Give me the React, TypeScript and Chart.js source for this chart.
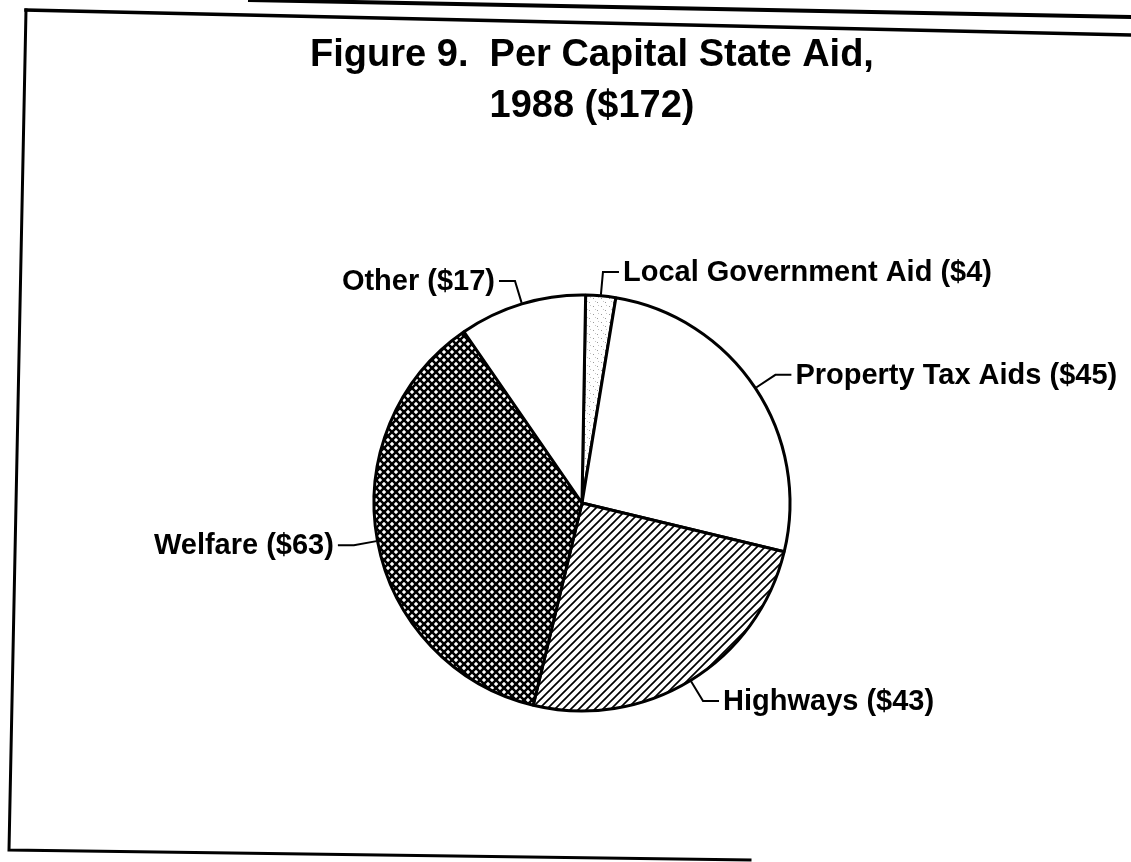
import React, { useEffect, useRef } from 'react';
import { Chart, registerables } from 'chart.js';

Chart.register(...registerables);

// ---- data ----
const categories = ['Local Government Aid', 'Property Tax Aids', 'Highways', 'Welfare', 'Other'];
const values = [4, 45, 43, 63, 17];
const titleLines = ['Figure 9.  Per Capital State Aid,', '1988 ($172)'];

const FONT = '"Liberation Sans", Arial, Helvetica, sans-serif';

function makePattern(size: number, draw: (c: CanvasRenderingContext2D, s: number) => void): CanvasPattern | string {
  const cv = document.createElement('canvas');
  cv.width = size;
  cv.height = size;
  const c = cv.getContext('2d');
  if (!c) return '#fff';
  c.fillStyle = '#fff';
  c.fillRect(0, 0, size, size);
  draw(c, size);
  const p = c.createPattern(cv, 'repeat');
  return p || '#fff';
}

function slash(c: CanvasRenderingContext2D, s: number) {
  c.beginPath();
  c.moveTo(0, s);
  c.lineTo(s, 0);
  c.moveTo(-2, 2);
  c.lineTo(2, -2);
  c.moveTo(s - 2, s + 2);
  c.lineTo(s + 2, s - 2);
  c.stroke();
}
function backslash(c: CanvasRenderingContext2D, s: number) {
  c.beginPath();
  c.moveTo(0, 0);
  c.lineTo(s, s);
  c.moveTo(-2, s - 2);
  c.lineTo(2, s + 2);
  c.moveTo(s - 2, -2);
  c.lineTo(s + 2, 2);
  c.stroke();
}

const titlePlugin = {
  id: 'figTitle',
  afterDraw(chart: any) {
    const ctx: CanvasRenderingContext2D = chart.ctx;
    ctx.save();
    ctx.fillStyle = '#000';
    ctx.font = `bold 38px ${FONT}`;
    ctx.textAlign = 'center';
    ctx.textBaseline = 'middle';
    const cx = (chart.chartArea.left + chart.chartArea.right) / 2 + 10;
    titleLines.forEach((t, i) => ctx.fillText(t, cx, 56 + i * 51));
    ctx.restore();
  },
};

const labelPlugin = {
  id: 'leaderLabels',
  afterDraw(chart: any) {
    const ctx: CanvasRenderingContext2D = chart.ctx;
    const meta = chart.getDatasetMeta(0);
    const data = chart.data.datasets[0].data as number[];
    const labels = chart.data.labels as string[];
    ctx.save();
    ctx.strokeStyle = '#000';
    ctx.fillStyle = '#000';
    ctx.lineWidth = 2;
    ctx.font = `bold 29px ${FONT}`;
    ctx.textBaseline = 'middle';
    meta.data.forEach((arc: any, i: number) => {
      const { x, y, startAngle, endAngle, outerRadius } = arc.getProps(
        ['x', 'y', 'startAngle', 'endAngle', 'outerRadius'],
        true
      );
      const mid = (startAngle + endAngle) / 2;
      const cx = Math.cos(mid);
      const cy = Math.sin(mid);
      const r0 = outerRadius + 1;
      const ex = x + cx * r0;
      const ey = y + cy * r0;
      const kx = x + cx * (r0 + 23);
      const ky = y + cy * (r0 + 23);
      const right = cx >= 0;
      const hx = kx + (right ? 16 : -16);
      ctx.beginPath();
      ctx.moveTo(ex, ey);
      ctx.lineTo(kx, ky);
      ctx.lineTo(hx, ky);
      ctx.stroke();
      ctx.textAlign = right ? 'left' : 'right';
      const txt = `${labels[i]} ($${data[i]})`;
      ctx.fillText(txt, hx + (right ? 4 : -4), ky + 1);
    });
    ctx.restore();
  },
};

const framePlugin = {
  id: 'scanFrame',
  beforeDraw(chart: any) {
    const ctx: CanvasRenderingContext2D = chart.ctx;
    ctx.save();
    ctx.fillStyle = '#fff';
    ctx.fillRect(0, 0, chart.width, chart.height);
    ctx.strokeStyle = '#000';
    ctx.lineCap = 'square';
    // outer top line (page edge)
    ctx.lineWidth = 4;
    ctx.beginPath();
    ctx.moveTo(250, 0);
    ctx.lineTo(1131, 17);
    ctx.stroke();
    // frame top
    ctx.lineWidth = 3.5;
    ctx.beginPath();
    ctx.moveTo(26, 10);
    ctx.lineTo(1131, 35);
    ctx.stroke();
    // frame left + bottom
    ctx.lineWidth = 3;
    ctx.beginPath();
    ctx.moveTo(26, 10);
    ctx.lineTo(9, 850);
    ctx.lineTo(750, 860);
    ctx.stroke();
    ctx.restore();
  },
};

export default function App() {
  const ref = useRef<HTMLCanvasElement | null>(null);

  useEffect(() => {
    document.body.style.margin = '0';
    const canvas = ref.current;
    if (!canvas) return;

    const stipple = makePattern(8, (c) => {
      c.fillStyle = '#9a9a9a';
      c.fillRect(1, 2, 1, 1);
      c.fillRect(5, 6, 1, 1);
      c.fillStyle = '#c8c8c8';
      c.fillRect(6, 1, 1, 1);
      c.fillRect(3, 5, 1, 1);
    });
    const hatch = makePattern(8, (c, s) => {
      c.strokeStyle = '#000';
      c.lineWidth = 1.7;
      slash(c, s);
    });
    const cross = makePattern(8, (c, s) => {
      c.strokeStyle = '#000';
      c.lineWidth = 2.6;
      slash(c, s);
      backslash(c, s);
    });

    const chart = new Chart(canvas, {
      type: 'pie',
      data: {
        labels: categories,
        datasets: [
          {
            data: values,
            backgroundColor: [stipple, '#ffffff', hatch, cross, '#ffffff'] as any,
            borderColor: '#000',
            borderWidth: 3,
            radius: 208,
          } as any,
        ],
      },
      options: {
        animation: false,
        responsive: false,
        devicePixelRatio: 1,
        rotation: 1,
        layout: { padding: { left: 33, right: 0, top: 144, bottom: 0 } },
        plugins: {
          legend: { display: false },
          tooltip: { enabled: false },
          title: { display: false },
        },
      } as any,
      plugins: [framePlugin, titlePlugin, labelPlugin],
    });

    return () => chart.destroy();
  }, []);

  return (
    <div style={{ position: 'absolute', left: 0, top: 0, width: 1131, height: 862, background: '#fff' }}>
      <canvas ref={ref} width={1131} height={862} style={{ display: 'block' }} />
    </div>
  );
}
